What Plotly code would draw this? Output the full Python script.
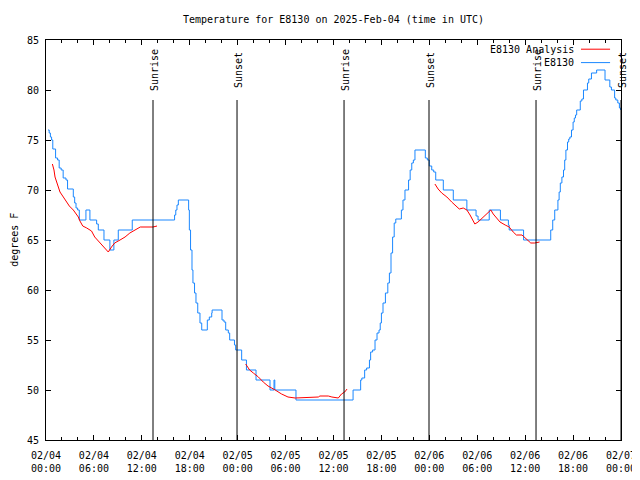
import pandas as pd
import plotly.graph_objects as go

START = "2025-02-04 00:00"
TITLE = "Temperature for E8130 on 2025-Feb-04 (time in UTC)"

# Observed station values (hours after 02/04 00:00 UTC, degrees F), change points
obs_hours = [0.25, 0.4, 0.55, 0.7, 0.85, 1.2, 1.45, 1.65, 1.9, 2.15, 2.5, 2.7,
             3.42, 3.59, 3.76, 3.96, 4.17, 5.0, 5.5, 6.34, 6.55, 7.26, 8.0, 8.5,
             9.05, 10.8, 16.1, 16.25, 16.4, 16.57, 17.86, 17.95, 18.1, 18.28,
             18.4, 18.6, 18.78, 19.0, 19.28, 19.5, 20.2, 20.45, 20.75, 20.8,
             22.04, 22.29, 22.5, 22.83, 23.0, 23.6, 23.75, 24.5, 25.1, 26.3,
             28.05, 28.55, 28.65, 31.3, 38.45, 39.4, 39.55, 39.9, 40.15, 40.5,
             40.65, 40.9, 41.2, 41.45, 41.7, 41.85, 42.0, 42.2, 42.5, 42.8, 43.0,
             43.2, 43.4, 43.6, 43.8, 44.5, 44.7, 44.95, 45.4, 45.6, 45.8, 46.0,
             46.2, 47.5, 47.75, 48.0, 48.3, 48.55, 48.8, 49.75, 51.0, 52.7,
             53.85, 54.1, 55.5, 56.9, 57.9, 58.0, 59.8, 63.2, 63.45, 63.7, 64.1,
             64.25, 64.4, 64.6, 64.8, 64.95, 65.1, 65.3, 65.45, 65.6, 65.8, 66.0,
             66.15, 66.3, 66.45, 66.9, 67.1, 67.3, 67.8, 67.96, 68.3, 68.95,
             70.0, 70.6, 70.8, 71.2, 71.35, 71.6, 71.8, 71.95]
obs_temp = [76.0, 75.7, 75.3, 75.0, 74.1, 73.2, 73.0, 72.2, 72.0, 71.2, 71.0, 70.1,
            69.3, 68.7, 68.2, 68.0, 67.0, 68.0, 67.0, 66.6, 66.0, 65.0, 64.0, 65.0,
            66.0, 67.0, 67.5, 68.0, 68.5, 69.0, 68.0, 66.0, 64.0, 62.0,
            60.7, 59.7, 58.7, 57.7, 56.7, 56.0, 57.0, 57.3, 57.7, 58.0,
            57.0, 56.8, 56.0, 55.7, 55.0, 54.5, 54.0, 53.0, 52.0, 51.0,
            50.0, 51.0, 50.0, 49.0, 50.0, 51.0, 51.2, 52.0, 52.2, 53.0,
            53.8, 54.0, 55.0, 55.7, 56.0, 56.7, 57.7, 58.7, 59.7, 60.7, 61.7,
            63.7, 65.3, 66.7, 67.1, 68.0, 69.0, 70.0, 71.0, 72.0, 72.7, 73.0,
            74.0, 73.2, 73.0, 72.4, 72.0, 71.8, 71.0, 70.0, 69.0, 68.0,
            67.4, 67.0, 68.0, 67.0, 66.5, 66.0, 65.0, 66.0, 67.0, 68.0, 69.0,
            69.8, 70.7, 71.3, 72.0, 73.0, 74.0, 74.8, 75.1, 75.3, 76.0, 76.8,
            77.2, 77.5, 78.0, 78.9, 79.1, 80.0, 80.7, 81.1, 81.7, 82.0,
            81.0, 80.3, 80.0, 79.2, 79.0, 78.7, 78.2, 78.0]

# Analysis values (None = gap)
ana_hours = [0.8, 1.0, 1.13, 1.34, 1.55, 1.75, 2.17, 2.59, 2.92, 3.42, 3.7, 4.05,
             4.25, 4.6, 5.1, 5.7, 6.1, 6.76, 7.4, 7.8, 8.2, 8.6, 9.27, 9.9, 10.5,
             11.1, 11.8, 13.4, 13.9, None,
             25.0, 25.5, 25.96, 26.6, 27.2, 27.8, 28.7, 29.5, 30.3, 31.2, 34.1,
             34.3, 35.35, 35.8, 36.6, 37.0, 37.4, 37.7, None,
             48.7, 49.1, 49.55, 50.2, 50.8, 51.3, 51.75, 52.25, 52.7, 53.1, 53.4,
             53.7, 54.1, 54.75, 55.2, 55.7, 56.0, 56.4, 56.85, 57.5, 58.0, 58.5,
             58.9, 59.6, 60.2, 60.7, 61.2, 61.8]
ana_temp = [72.6, 72.0, 71.3, 70.7, 70.2, 69.8, 69.3, 68.8, 68.4, 68.0, 67.7, 67.3,
            66.9, 66.4, 66.2, 65.9, 65.3, 64.7, 64.1, 63.8, 64.3, 64.7, 65.0, 65.3,
            65.7, 66.0, 66.3, 66.3, 66.4, None,
            52.6, 52.0, 51.7, 51.3, 50.8, 50.4, 50.0, 49.6, 49.3, 49.2, 49.3,
            49.4, 49.4, 49.3, 49.2, 49.6, 49.8, 50.1, None,
            70.6, 70.1, 69.7, 69.3, 68.8, 68.4, 68.1, 68.2, 68.0, 67.5, 67.0,
            66.6, 66.8, 67.3, 67.7, 68.0, 67.6, 67.2, 66.8, 66.5, 66.3, 65.8,
            65.5, 65.5, 65.1, 64.7, 64.7, 64.8]

# Sun events (hours after start)
sun_hours = [13.4, 23.92, 37.32, 47.96, 61.36, 72.0]
sun_labels = ["Sunrise", "Sunset", "Sunrise", "Sunset", "Sunrise", "Sunset"]
sun_line_top = 79
sun_label_y = 82

tick_hours = [0, 6, 12, 18, 24, 30, 36, 42, 48, 54, 60, 66, 72]
tick_labels = ["02/04<br>00:00", "02/04<br>06:00", "02/04<br>12:00", "02/04<br>18:00",
               "02/05<br>00:00", "02/05<br>06:00", "02/05<br>12:00", "02/05<br>18:00",
               "02/06<br>00:00", "02/06<br>06:00", "02/06<br>12:00", "02/06<br>18:00",
               "02/07<br>00:00"]
y_ticks = [45, 50, 55, 60, 65, 70, 75, 80, 85]

base = pd.Timestamp(START)


def to_time(hours):
    return [None if h is None else base + pd.Timedelta(hours=h) for h in hours]


FONT = "DejaVu Sans Mono"
RED = "#ff0000"
BLUE = "#1a87ff"

fig = go.Figure()
fig.add_trace(go.Scatter(x=to_time(obs_hours), y=obs_temp, mode="lines",
                         line=dict(color=BLUE, width=1, shape="hv"),
                         name="E8130", showlegend=False))
fig.add_trace(go.Scatter(x=to_time(ana_hours), y=ana_temp, mode="lines",
                         line=dict(color=RED, width=1), connectgaps=False,
                         name="E8130 Analysis", showlegend=False))

for t, lab in zip(to_time(sun_hours), sun_labels):
    fig.add_shape(type="line", xref="x", yref="y", x0=t, x1=t, y0=45, y1=sun_line_top,
                  line=dict(color="black", width=1))
    fig.add_annotation(x=t, y=sun_label_y, xref="x", yref="y", text=lab,
                       textangle=-90, showarrow=False, xshift=1,
                       font=dict(family=FONT, size=10, color="black"))

# legend (manual, gnuplot style)
legend_rows = [("E8130 Analysis", RED, 0.977), ("E8130", BLUE, 0.9435)]
for name, col, yy in legend_rows:
    fig.add_annotation(x=0.921, y=yy, xref="paper", yref="paper", text=name,
                       xanchor="right", yanchor="middle", showarrow=False,
                       font=dict(family=FONT, size=10, color="black"))
    fig.add_shape(type="line", xref="paper", yref="paper", x0=0.9304, x1=0.981,
                  y0=yy, y1=yy, line=dict(color=col, width=1))

fig.add_annotation(x=-0.056, y=0.5, xref="paper", yref="paper", text="degrees F",
                   textangle=-90, showarrow=False, xanchor="center", yanchor="middle",
                   font=dict(family=FONT, size=10, color="black"))

# the page body adds an 8px offset; margins chosen so the plot area lands at
# 46..621 x 40..440 in the 640x480 window
fig.update_layout(
    width=640, height=480,
    margin=dict(l=38, r=27, t=32, b=48, pad=0, autoexpand=False),
    paper_bgcolor="white", plot_bgcolor="white",
    font=dict(family=FONT, size=10, color="black"),
    title=dict(text=TITLE, x=0.5, xref="paper", y=1 - 11 / 480, yref="container",
               xanchor="center", yanchor="middle",
               font=dict(family=FONT, size=10, color="black")),
    showlegend=False,
)
fig.update_xaxes(type="date", range=[base, base + pd.Timedelta(hours=72)],
                 tickvals=to_time(tick_hours), ticktext=tick_labels,
                 automargin=False, ticklabeloverflow="allow",
                 showgrid=False, zeroline=False, showline=True, linecolor="black",
                 linewidth=1, mirror="allticks", ticks="inside", ticklen=5,
                 tickcolor="black", tickwidth=1, ticklabelstandoff=6,
                 minor=dict(dtick=2 * 3600 * 1000, ticks="inside", ticklen=3,
                            tickcolor="black", showgrid=False),
                 tickfont=dict(family=FONT, size=10, color="black"))
fig.update_yaxes(range=[45, 85], tickvals=y_ticks, showgrid=False, zeroline=False,
                 automargin=False,
                 showline=True, linecolor="black", linewidth=1, mirror="allticks",
                 ticks="inside", ticklen=5, tickcolor="black", tickwidth=1,
                 ticklabelstandoff=4,
                 tickfont=dict(family=FONT, size=10, color="black"))

fig.write_html("out.html")
